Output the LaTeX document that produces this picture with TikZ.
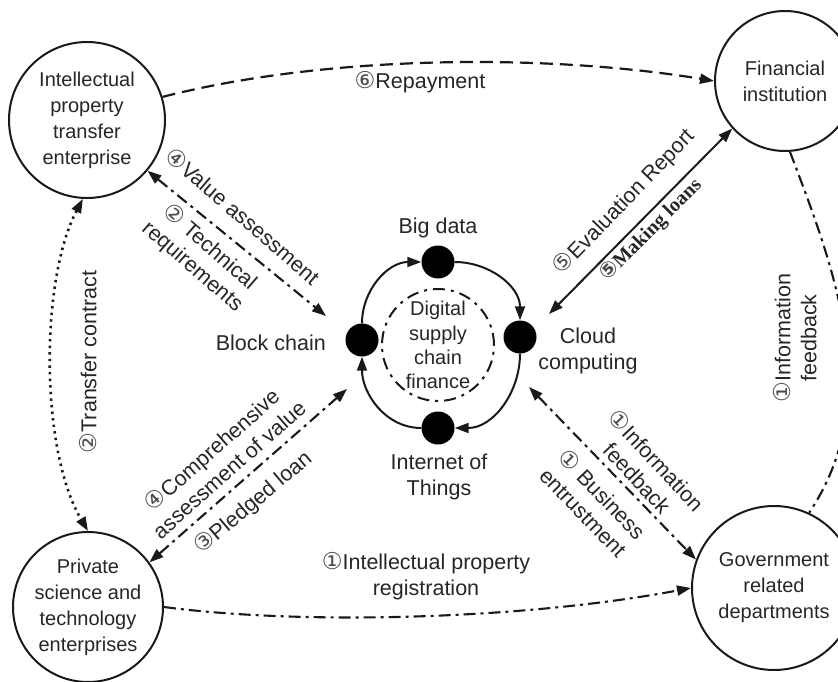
\documentclass[tikz,border=0pt]{standalone}
\usepackage{fontspec}
\setmainfont{Liberation Sans}
\newfontfamily\cnfont[Scale=1.08]{DejaVu Sans}
\newfontfamily\serifbold{Liberation Serif}
\usetikzlibrary{arrows.meta}
\newcommand{\cn}[1]{{\cnfont\color{black!70}#1}}
\begin{document}
\begin{tikzpicture}[x=1pt,y=-1pt,
  >={Triangle[length=14pt,width=10pt]},
  every node/.style={font=\fontsize{21.5}{26}\selectfont, text=black!85, inner sep=0pt},
  ent/.style={circle, draw=black!90, line width=2pt, minimum size=#1, align=center,
              font=\fontsize{20}{26}\selectfont},
  hub/.style={circle, fill=black, minimum size=33pt},
  lbl/.style={align=center},
  dashline/.style={draw=black!90, line width=2.2pt, dash pattern=on 13pt off 7pt},
  dotline/.style={draw=black!90, line width=2.6pt, dash pattern=on 2.4pt off 4.2pt},
  dashdotline/.style={draw=black!90, line width=2.1pt, dash pattern=on 12pt off 5pt on 3pt off 5pt},
  solidline/.style={draw=black!90, line width=2pt},
  ringline/.style={draw=black!90, line width=2pt}
]
\useasboundingbox (0,0) rectangle (838,682);
\clip (0,0) rectangle (838,682);

% entities
\node[ent=156pt] (ip) at (87,120) {Intellectual\\property\\transfer\\enterprise};
\node[ent=140pt] (fin) at (785,81) {Financial\\institution};
\node[ent=150pt] (priv) at (88,607) {Private\\science and\\technology\\enterprises};
\node[ent=164pt] (gov) at (774,588) {Government\\related\\departments};

% central ring
\node[hub] (bc) at (362,340) {};
\node[hub] (bd) at (438,262) {};
\node[hub] (cc) at (520,337) {};
\node[hub] (iot) at (438,428) {};
\node[circle, draw=black!90, line width=2pt, dash pattern=on 12pt off 6pt on 3pt off 6pt,
      minimum size=112pt, align=center, font=\fontsize{20}{24.3}\selectfont] (dscf) at (438,345)
      {Digital\\supply\\chain\\finance};

\draw[ringline,->] (bc) to[out=90,in=180] (bd);
\draw[ringline,->] (bd) to[out=0,in=90] (cc);
\draw[ringline,->] (cc) to[out=-90,in=0] (iot);
\draw[ringline,->] (iot) to[out=180,in=-90] (bc);

\node (lbd) at (438,228) {Big data};
\node[anchor=east] (lbc) at (326,343) {Block chain};
\node[lbl] (lcc) at (588,351) {Cloud\\computing};
\node[lbl] (liot) at (439,477) {Internet of\\Things};

% free ends of connectors near the ring
\coordinate (bcA) at (326,316);
\coordinate (bcB) at (347,389);
\coordinate (ccA) at (549,314);
\coordinate (ccB) at (529,387);

% connectors
\draw[dashline,->] (ip.17) .. controls (330,54) and (550,54) .. (fin.west);
\draw[dotline,<->] (ip.-93) .. controls (40,280) and (40,450) .. (priv.north);
\draw[dashdotline,<->] (ip.-40) -- (bcA);
\draw[dashdotline,<->] (priv.36) -- (bcB);
\draw[solidline,<->] (fin.222) -- (ccA);
\draw[dashdotline,<->] (ccB) -- (gov.160);
\draw[dashdotline,->] (priv.east) .. controls (300,625) and (520,620) .. (gov.west);
\draw[dashdotline] (fin.-86) .. controls (835,270) and (885,400) .. (gov.65);

% labels
\node[lbl] (lrep) at (420,82) {\cn{⑥}Repayment};
\node[lbl, rotate=90] (ltc) at (88,362) {\cn{②}Transfer contract};
\node[lbl, rotate=-40.7] (lva) at (243,216) {\cn{④}Value assessment};
\node[lbl, rotate=-41] (ltr) at (201,257) {\cn{②} Technical\\requirements};
\node[lbl, rotate=41.5] (lca) at (220,459) {\cn{④}Comprehensive\\assessment of value};
\node[lbl, rotate=40] (lpl) at (253,503) {\cn{③}Pledged loan};
\node[lbl, rotate=46] (ler) at (624,202) {\cn{⑤}Evaluation Report};
\node[lbl, rotate=45, font=\serifbold\bfseries\fontsize{20}{24}\selectfont] (lml) at (651,230) {\cn{⑤}Making loans};
\node[lbl, rotate=-47] (lif) at (647,469) {\cn{①}Information\\feedback};
\node[lbl, rotate=-46] (lbe) at (593,503) {\cn{①} Business\\entrustment};
\node[lbl, rotate=90] (lif2) at (795,338) {\cn{①}Information\\feedback};
\node[lbl] (lipr) at (426,576) {\cn{①}Intellectual property\\registration};
\end{tikzpicture}
\end{document}
